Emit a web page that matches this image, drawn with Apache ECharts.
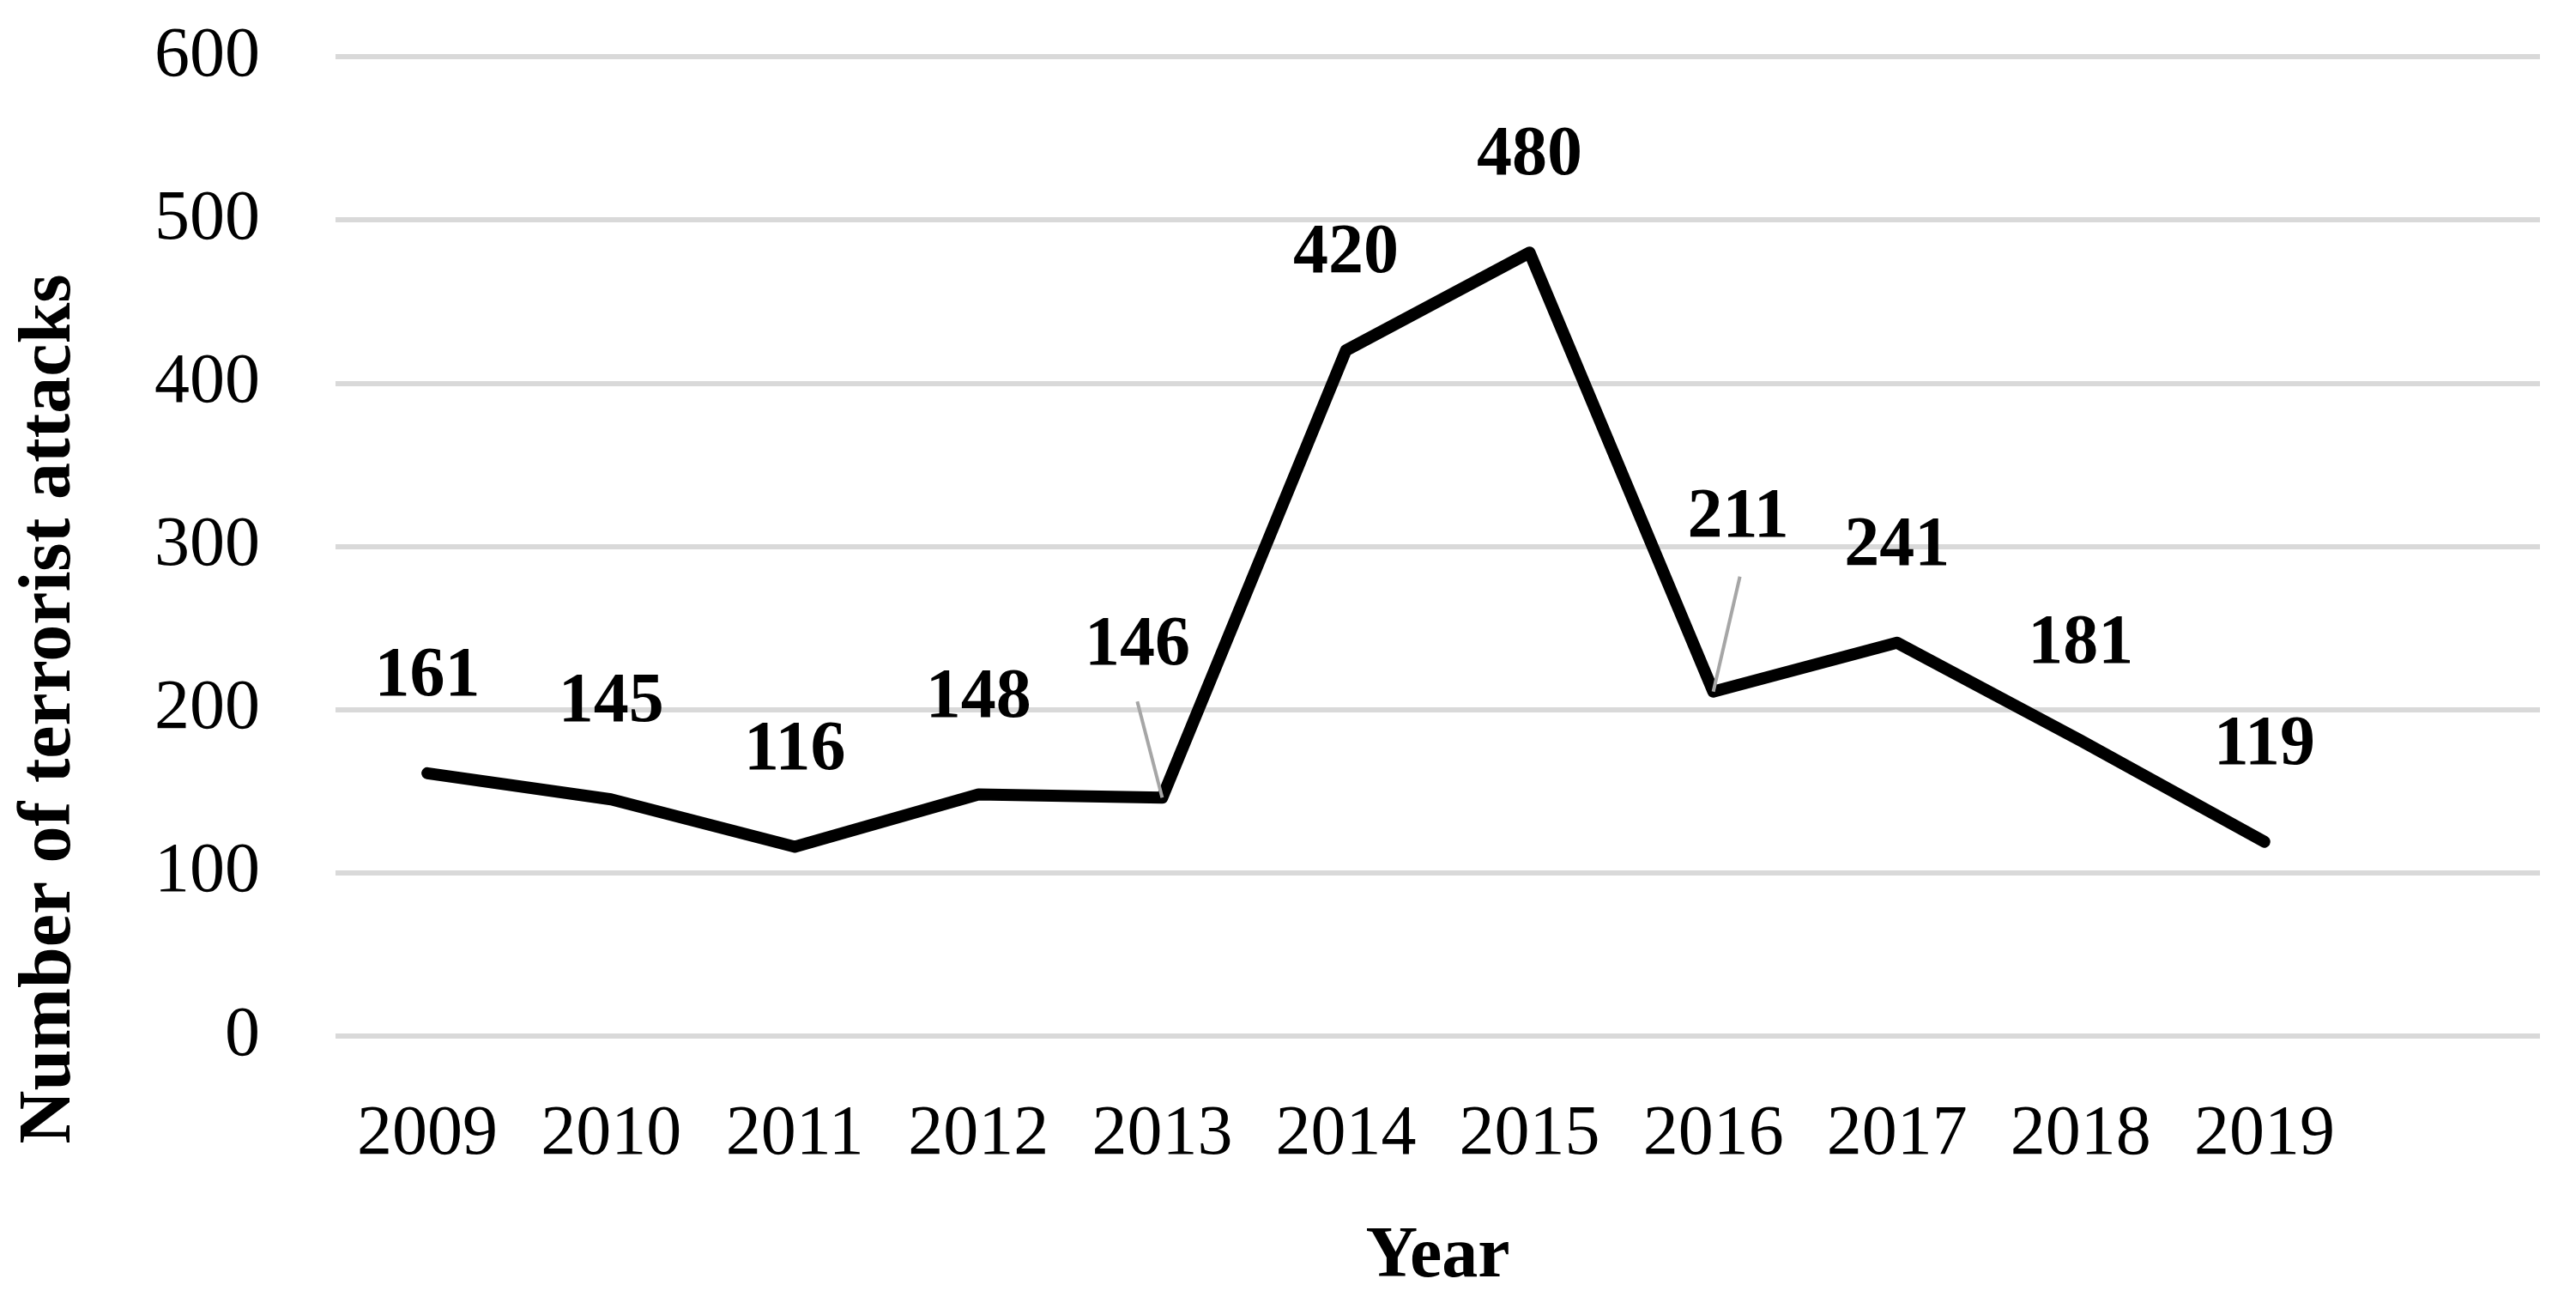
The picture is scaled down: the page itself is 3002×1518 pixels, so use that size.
<!DOCTYPE html>
<html>
<head>
<meta charset="utf-8">
<script src="https://cdn.jsdelivr.net/npm/echarts@6/dist/echarts.min.js"></script>
<style>
  html, body { margin: 0; padding: 0; background: #fff; }
  #chart { width: 3002px; height: 1518px; }
</style>
</head>
<body>
<div id="chart"></div>
<script>
// data
var years = ['2009', '2010', '2011', '2012', '2013', '2014', '2015', '2016', '2017', '2018', '2019', ''];
var attacks = [161, 145, 116, 148, 146, 420, 480, 211, 241, 181, 119];
var yTicks = [0, 100, 200, 300, 400, 500, 600];

var FONT = 'Liberation Serif';

// labels that were pulled away from the line, with a grey leader line
var movedLabels = {
  4: { offset: [-29, -65], lead: [-29, -112] },
  7: { offset: [29, -90], lead: [31, -134] }
};

var seriesData = attacks.map(function (v, i) {
  var item = { value: v };
  if (movedLabels[i]) {
    item.label = { offset: movedLabels[i].offset };
  }
  return item;
});

var myChart = echarts.init(document.getElementById('chart'));

var option = {
  backgroundColor: '#ffffff',
  animation: false,
  grid: { left: 391, right: 42, top: 66, bottom: 311 },
  xAxis: {
    type: 'category',
    data: years,
    boundaryGap: true,
    axisLine: { show: false },
    axisTick: { show: false },
    axisLabel: { fontFamily: FONT, fontSize: 82, color: '#000', margin: 74 },
    name: 'Year',
    nameLocation: 'middle',
    nameGap: 216,
    nameTextStyle: { fontFamily: FONT, fontSize: 84, fontWeight: 'bold', color: '#000' }
  },
  yAxis: {
    type: 'value',
    min: yTicks[0],
    max: yTicks[yTicks.length - 1],
    interval: yTicks[1] - yTicks[0],
    axisLine: { show: false },
    axisTick: { show: false },
    axisLabel: { fontFamily: FONT, fontSize: 82, color: '#000', margin: 88 },
    splitLine: { lineStyle: { color: '#d9d9d9', width: 6 } }
  },
  series: [
    {
      type: 'line',
      data: seriesData,
      symbol: 'circle',
      symbolSize: 2,
      itemStyle: { color: '#000' },
      lineStyle: { color: '#000', width: 14, join: 'round', cap: 'round' },
      label: {
        show: true,
        position: 'top',
        distance: 70,
        fontFamily: FONT,
        fontSize: 82,
        fontWeight: 'bold',
        color: '#000'
      }
    }
  ]
};

myChart.setOption(option);

// axis title and leader lines, placed from the chart's own scales
var graphics = [
  {
    type: 'text',
    x: 59,
    y: 826,
    rotation: Math.PI / 2,
    style: {
      text: 'Number of terrorist attacks',
      fontFamily: FONT,
      fontSize: 86,
      fontWeight: 'bold',
      fill: '#000',
      align: 'center',
      verticalAlign: 'middle'
    }
  }
];

Object.keys(movedLabels).forEach(function (k) {
  var i = +k;
  var p = myChart.convertToPixel({ seriesIndex: 0 }, [i, attacks[i]]);
  var lead = movedLabels[k].lead;
  graphics.push({
    type: 'line',
    z: 10,
    shape: { x1: p[0], y1: p[1], x2: p[0] + lead[0], y2: p[1] + lead[1] },
    style: { stroke: '#a6a6a6', lineWidth: 4 }
  });
});

myChart.setOption({ graphic: graphics });
</script>
</body>
</html>
